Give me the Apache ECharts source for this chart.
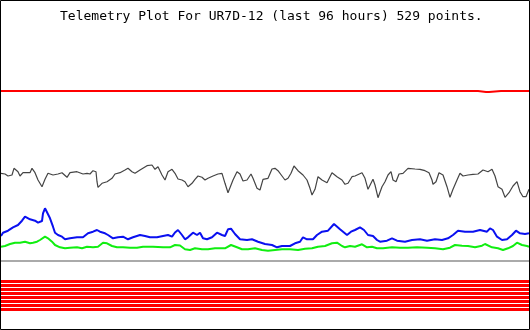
<!DOCTYPE html>
<html>
<head>
<meta charset="utf-8">
<script src="https://cdn.jsdelivr.net/npm/echarts@6/dist/echarts.min.js"></script>
<style>
html,body{margin:0;padding:0;background:#fff;}
#chart{width:530px;height:330px;}
</style>
</head>
<body>
<div id="chart"></div>
<script>
// Sample numbers (1..529) and read values (arbitrary plot units)
var titleText = 'Telemetry Plot For UR7D-12 (last 96 hours) 529 points.';

var blackX = [1,5,8,12,14,18,20,23,30,32,35,38,42,45,48,53,58,62,67,70,77,83,87,90,93,96,97,98,102,107,112,115,120,125,128,132,135,140,147,152,155,158,162,165,168,172,175,178,182,185,188,192,195,198,202,205,208,213,218,222,225,228,230,233,237,240,243,247,251,253,257,260,263,268,272,275,278,282,285,288,291,294,298,303,307,310,312,315,318,322,327,332,337,342,345,348,352,355,357,362,365,368,371,373,375,378,382,385,388,391,393,396,399,403,408,415,420,425,429,432,433,436,439,443,447,450,453,457,460,463,468,473,478,483,488,492,495,498,502,505,509,513,517,520,523,526,529];
var blackV = [156.7,156,154,155,161.7,158.3,154,157.3,157.3,161.7,157.3,150,143.3,150.7,156.7,155,156,157.3,152.7,157.3,158.3,156,156.7,156,159.3,158.3,148.3,142.7,146.7,148.3,151.7,156,157.3,160,161.7,158.3,156.7,160,164.3,165,160.7,163.3,155,150,158.3,160.7,156.7,151,150,148.3,143.3,146.7,150.7,154,152.7,150,151.7,154,156,156.7,146.7,137.3,138.3,150,158.3,156,149,150,156,151.7,141.7,140,150.7,151.7,161,161.7,159.3,154,150,151.7,156.7,164,159.3,155,150,141.7,135,140.7,153.3,150,147.3,157.3,153.3,150,145.7,146.7,153.3,154,155,157.3,151.7,140.7,146.7,150.7,145,132.3,143.3,148.3,155,158.3,150,148.3,156,156.7,161.7,161,160.7,159.3,157.3,150,145.7,148.3,157.3,155,143.3,132.7,140.7,150,156.7,154,155,155.7,156,160,158.3,160.7,154,143.3,140.7,132.7,137.3,144,148.3,138.3,133.3,133.3,140.7];

var blueX = [1,3,8,13,18,22,25,30,35,38,42,43,45,47,50,53,55,58,62,65,70,77,83,88,93,97,100,105,108,113,118,123,128,133,140,145,150,157,163,168,172,175,178,182,185,188,193,197,200,203,207,212,217,222,225,228,231,235,240,247,252,254,258,265,272,277,282,290,295,300,303,307,313,317,322,328,334,340,347,351,355,360,364,368,373,377,380,387,392,397,405,412,420,427,435,442,448,453,458,465,473,480,487,490,493,497,502,507,512,516,520,525,529];
var blueV = [94,97.3,99.3,102.7,105,109.3,113.3,110.7,109.3,107.3,109,116.7,121.7,120,111.7,103.3,97.3,95,93.3,90.7,91.7,92.7,92.7,96.7,98.3,100,98.3,96.7,95,91.7,92.7,93.3,90.7,92.7,95,94,92.7,92.7,94,95,93.3,97.5,100,95,90.7,92.7,97.3,95,97.3,91.7,90.7,92.7,97.3,95,94,100.7,101.3,96,90.7,90,90.7,91.7,88.3,86,85,82.7,84,84,86.7,88.3,92.7,90.7,90.7,95,98.3,99.3,106,100.7,95,98.3,100,102.7,100,95,94,90,88.3,89.3,91.7,89.3,88.3,90,90.7,89.3,90.7,90,91.7,95,99.3,98.3,98.3,100,98.3,101.7,100,93.3,90,90.7,95,99.3,96.7,96,96.7];

var greenX = [1,5,10,15,20,25,30,33,37,40,45,48,52,55,60,65,70,77,82,87,93,98,103,107,112,117,123,130,137,143,153,163,170,175,180,185,190,195,202,208,215,225,231,237,242,248,255,262,268,275,282,290,298,305,312,318,325,332,337,342,345,350,355,362,367,372,377,383,392,400,408,417,427,435,443,450,455,462,468,475,482,485,492,498,503,508,513,517,522,527,529];
var greenV = [83.3,84,86,87.3,87.3,88.3,86.7,87.3,88.3,90,93.3,91.7,88.3,85,82.7,81.7,82.3,82.7,81.7,83.3,82.7,83.3,87.3,86.7,84,82.7,82.7,82.3,82.3,83.3,83.3,82.7,82.7,85,84.5,80.7,80,81.7,80.7,80.7,81.7,81.7,85,82.7,80.7,80.7,81.7,80,79.3,80,80.7,80.7,80,81.3,81.7,83.3,84,86.7,87.3,84,82.7,84,83.3,85.7,82.7,83.3,81.7,81.7,82.7,82.3,82.3,82.7,82.3,81.7,80.7,82.3,85,84.3,84,82.7,84.3,86,82.7,81.7,80,81.7,84,87.3,85,84,83.3];

var redTopX = [1,61,62,75,76,92,93,95,96,98,99,208,209,219,220,232,233,236,237,320,321,323,324,365,367,445,446,457,458,470,471,478,486,488,489,501,502,529];
var redTopV = [239,238,239,238,239,238,239,238,239,238,239,238,239,238,239,238,239,238,239,238,239,238,239,238,239,238,239,238,239,238,239,238,239,238,239,238,239,239];

var grayLevel = 69;
var stripeLevels = [48.5,44.5,40.5,36.5,32.5,28.5,24.5,20.5];
var firstSample = 1, lastSample = 529;

function zip(xs, vs){ return xs.map(function(x,i){ return [x, vs[i]]; }); }

var series = [];
stripeLevels.forEach(function(lv){
  series.push({type:'line', symbol:'none', silent:true,
    data:[[firstSample, lv],[lastSample, lv]],
    lineStyle:{color:'#ff0000', width:3, cap:'butt'}});
});
series.push({type:'line', symbol:'none', data:[[firstSample, grayLevel],[lastSample, grayLevel]],
  lineStyle:{color:'#aaaaaa', width:2, cap:'butt'}});
series.push({type:'line', symbol:'none', step:'end', data:zip(redTopX, redTopV),
  lineStyle:{color:'#ff0000', width:2, cap:'butt'}});
series.push({type:'line', symbol:'none', data:zip(greenX, greenV),
  lineStyle:{color:'#10ee10', width:2}});
series.push({type:'line', symbol:'none', data:zip(blueX, blueV),
  lineStyle:{color:'#0a10f0', width:2}});
series.push({type:'line', symbol:'none', data:zip(blackX, blackV),
  lineStyle:{color:'#444444', width:1.2}});

var chart = echarts.init(document.getElementById('chart'), null, {renderer:'canvas'});
chart.setOption({
  backgroundColor:'#ffffff',
  animation:false,
  title:{text:titleText, left:60, top:10, padding:0,
    textStyle:{fontFamily:'DejaVu Sans Mono', fontSize:13, fontWeight:'normal', color:'#000'}},
  grid:{left:0, right:0, top:0, bottom:0},
  xAxis:{type:'value', min:0, max:530, show:false},
  yAxis:{type:'value', min:0, max:330, show:false},
  series:series,
  graphic:[{type:'rect', z:100, silent:true,
    shape:{x:0.5, y:0.5, width:529, height:329},
    style:{fill:null, stroke:'#000', lineWidth:1}}]
});
</script>
</body>
</html>
